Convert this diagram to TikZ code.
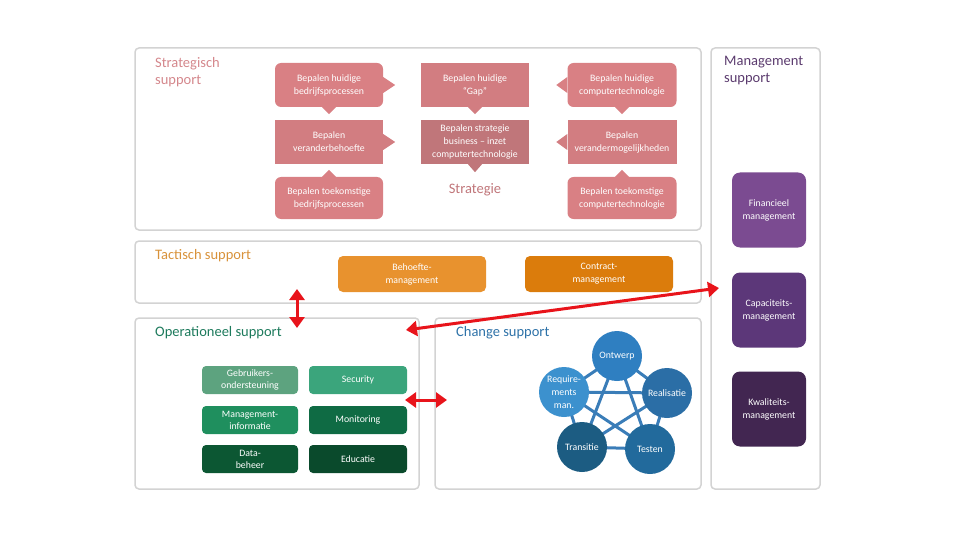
\documentclass[tikz,border=0pt]{standalone}
\usepackage{fontspec}
\setmainfont{Carlito}
\usetikzlibrary{arrows.meta,calc,positioning,backgrounds}

\definecolor{panelc}{HTML}{D3D3D3}
\definecolor{pinkA}{HTML}{D98084}
\definecolor{pinkB}{HTML}{D27D81}
\definecolor{pinkC}{HTML}{C0767A}
\definecolor{titS}{HTML}{D4878C}
\definecolor{titM}{HTML}{5B3B6E}
\definecolor{titT}{HTML}{D8923A}
\definecolor{titO}{HTML}{1D7A5C}
\definecolor{titC}{HTML}{2E72A8}
\definecolor{oranA}{HTML}{E8922E}
\definecolor{oranB}{HTML}{DB7C0C}
\definecolor{purA}{HTML}{7B4B91}
\definecolor{purB}{HTML}{5C3779}
\definecolor{purC}{HTML}{422651}
\definecolor{grA}{HTML}{5DA37F}
\definecolor{grB}{HTML}{3BA57C}
\definecolor{grC}{HTML}{1F8F5E}
\definecolor{grD}{HTML}{0F6B44}
\definecolor{grE}{HTML}{0C5733}
\definecolor{grF}{HTML}{0A4A2C}
\definecolor{blA}{HTML}{2F7FC1}
\definecolor{blB}{HTML}{2B6EA6}
\definecolor{blC}{HTML}{3C91CE}
\definecolor{blD}{HTML}{1C5C82}
\definecolor{blE}{HTML}{226A9C}
\definecolor{linkc}{HTML}{3A7DB8}
\definecolor{redc}{HTML}{E8141B}

\tikzset{
  panel/.style={draw=panelc, line width=1.5pt, rounded corners=4pt},
  title/.style={anchor=north west, align=left, inner sep=0pt, font=\fontsize{14.5}{17}\selectfont},
  sbox/.style={text=white, align=center, minimum width=108pt, minimum height=44pt, inner sep=1pt, font=\fontsize{9.8}{13}\selectfont},
  tbox/.style={text=white, align=center, minimum width=148pt, minimum height=36pt, inner sep=1pt, rounded corners=5pt, font=\fontsize{9.8}{13}\selectfont},
  mbox/.style={text=white, align=center, minimum width=74pt, minimum height=75pt, inner sep=1pt, rounded corners=8pt, font=\fontsize{9.8}{13}\selectfont},
  obox/.style={text=white, align=center, minimum height=28pt, inner sep=1pt, rounded corners=4pt, font=\fontsize{9.8}{12}\selectfont},
  circ/.style={circle, text=white, align=center, minimum size=50pt, inner sep=0pt, font=\fontsize{9.8}{13}\selectfont},
  link/.style={draw=linkc, line width=3pt},
  redarrow/.style={draw=redc, line width=3pt, {Triangle[length=11pt,width=15pt]}-{Triangle[length=11pt,width=15pt]}}
}

\begin{document}
\begin{tikzpicture}[x=1pt,y=-1pt]
\useasboundingbox (0,0) rectangle (960,540);

% panels
\draw[panel] (135,48) rectangle (701,230);
\draw[panel] (711,48) rectangle (820,489);
\draw[panel] (135,241) rectangle (701,303);
\draw[panel] (135,318) rectangle (419,489);
\draw[panel] (435,318) rectangle (701,489);

\node[title, text=titS] (tS) at (155,57) {Strategisch\\support};
\node[title, text=titM] (tM) at (724,56) {Management\\support};
\node[title, text=titT] (tT) at (155,249) {Tactisch support};
\node[title, text=titO] (tO) at (155,326) {Operationeel support};
\node[title, text=titC] (tC) at (456,326) {Change support};

% strategisch
\node[sbox, fill=pinkA, rounded corners=6pt] (b1) at (329,85) {Bepalen huidige\\bedrijfsprocessen};
\node[sbox, fill=pinkB] (b2) at (329,142) {Bepalen\\veranderbehoefte};
\node[sbox, fill=pinkA, rounded corners=6pt, minimum height=42pt] (b3) at (329,198) {Bepalen toekomstige\\bedrijfsprocessen};
\node[sbox, fill=pinkB] (g1) at (475,85) {Bepalen huidige\\``Gap''};
\node[sbox, fill=pinkC] (g2) at (475,142) {Bepalen strategie\\business -- inzet\\computertechnologie};
\node[font=\fontsize{14.5}{17}\selectfont, text=pinkC] (strat) at (475,190) {Strategie};
\node[sbox, fill=pinkA, rounded corners=6pt, minimum width=109pt] (r1) at (622,85) {Bepalen huidige\\computertechnologie};
\node[sbox, fill=pinkB, minimum width=109pt] (r2) at (622,142) {Bepalen\\verandermogelijkheden};
\node[sbox, fill=pinkA, rounded corners=6pt, minimum width=109pt, minimum height=42pt] (r3) at (622,198) {Bepalen toekomstige\\computertechnologie};

% pointers
\fill[pinkA] ($(b1.east)+(0,-8)$) -- ++(12,8) -- ++(-12,8) -- cycle;
\fill[pinkA] ($(b1.south)+(-7,0)$) -- ++(7,7) -- ++(7,-7) -- cycle;
\fill[pinkB] ($(b2.east)+(0,-8)$) -- ++(12,8) -- ++(-12,8) -- cycle;
\fill[pinkA] ($(b3.north)+(-7,0)$) -- ++(7,-7) -- ++(7,7) -- cycle;
\fill[pinkB] ($(g1.south)+(-7,0)$) -- ++(7,7) -- ++(7,-7) -- cycle;
\fill[pinkC] ($(g2.south)+(-7,0)$) -- ++(7,8) -- ++(7,-8) -- cycle;
\fill[pinkA] ($(r1.west)+(0,-8)$) -- ++(-11,8) -- ++(11,8) -- cycle;
\fill[pinkA] ($(r1.south)+(-7,0)$) -- ++(7,7) -- ++(7,-7) -- cycle;
\fill[pinkB] ($(r2.west)+(0,-8)$) -- ++(-11,8) -- ++(11,8) -- cycle;
\fill[pinkA] ($(r3.north)+(-7,0)$) -- ++(7,-7) -- ++(7,7) -- cycle;

% tactisch
\node[tbox, fill=oranA] (behoefte) at (412,274) {Behoefte-\\management};
\node[tbox, fill=oranB] (contract) at (599,274) {Contract-\\management};

% management
\node[mbox, fill=purA] (fin) at (769,210) {Financieel\\management};
\node[mbox, fill=purB] (cap) at (769,310) {Capaciteits-\\management};
\node[mbox, fill=purC] (kwal) at (769,409) {Kwaliteits-\\management};

% operationeel
\node[obox, fill=grA, minimum width=96pt] (gebr) at (250,380) {Gebruikers-\\ondersteuning};
\node[obox, fill=grB, minimum width=98pt] (secu) at (358,380) {Security};
\node[obox, fill=grC, minimum width=96pt] (mninf) at (250,420) {Management-\\informatie};
\node[obox, fill=grD, minimum width=98pt] (moni) at (358,420) {Monitoring};
\node[obox, fill=grE, minimum width=96pt] (data) at (250,459) {Data-\\beheer};
\node[obox, fill=grF, minimum width=98pt] (educ) at (358,459) {Educatie};

% change
\node[circ, fill=blA] (ontw) at (617,356) {Ontwerp};
\node[circ, fill=blB] (real) at (667,393) {Realisatie};
\node[circ, fill=blC] (req) at (564,392) {Require-\\ments\\man.};
\node[circ, fill=blD] (trans) at (582,447) {Transitie};
\node[circ, fill=blE] (test) at (650,449) {Testen};
\begin{scope}[on background layer]
  \foreach \a/\b in {ontw/real,ontw/req,ontw/trans,ontw/test,real/req,real/trans,real/test,req/trans,req/test,trans/test}
    \draw[link] (\a.center) -- (\b.center);
\end{scope}

% pijlen
\coordinate (vtop) at (297,289);
\coordinate (vbot) at (297,328);
\coordinate (dleft) at (406,330);
\coordinate (dright) at (719,288);
\coordinate (hleft) at (405,400);
\coordinate (hright) at (447,400);
\draw[redarrow] (vtop) -- (vbot);
\draw[redarrow] (dleft) -- (dright);
\draw[redarrow] (hleft) -- (hright);
\end{tikzpicture}
\end{document}
